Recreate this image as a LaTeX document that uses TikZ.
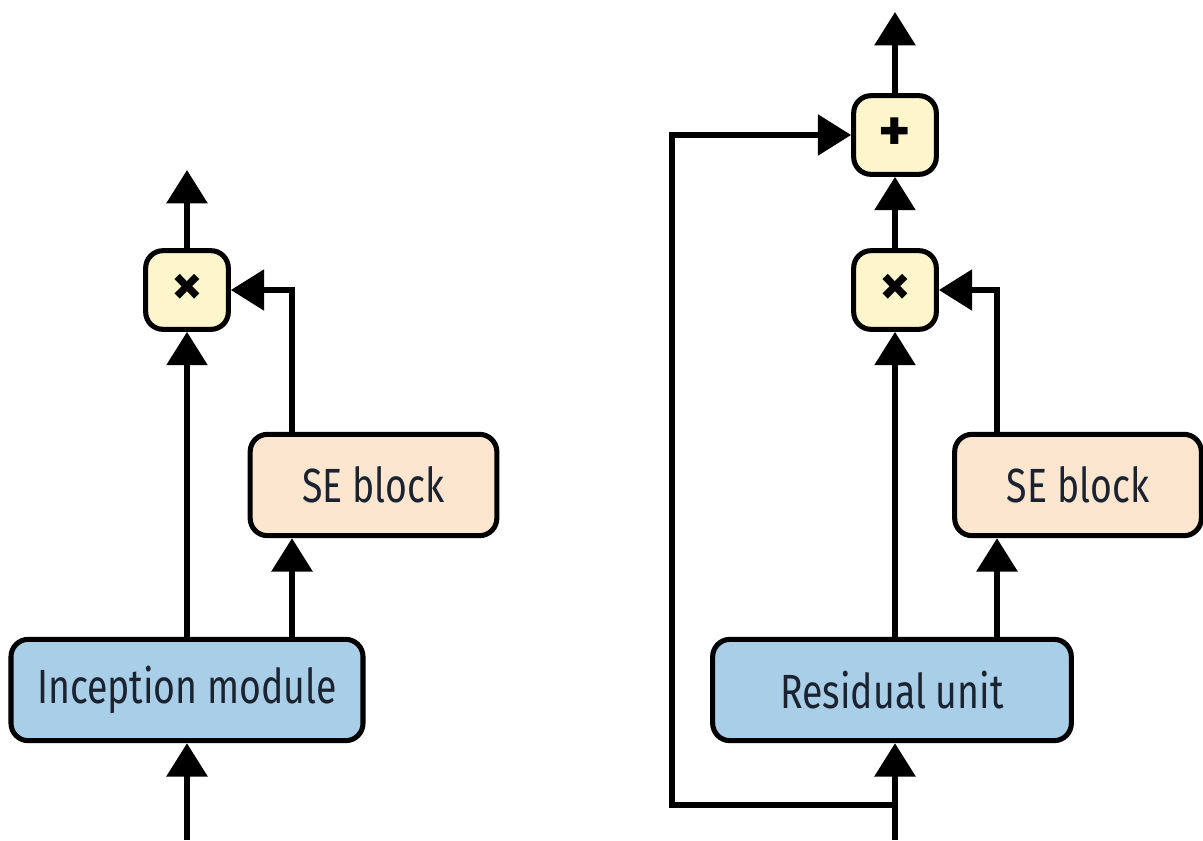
\documentclass[tikz,border=0pt]{standalone}
\usepackage{fontspec}
\setmainfont{Fira Sans}
\newfontfamily\labelfont[FakeStretch=0.78]{Fira Sans}
\usetikzlibrary{arrows.meta}
\definecolor{opyellow}{HTML}{FDF6CC}
\definecolor{oppeach}{HTML}{FCE6D0}
\definecolor{opblue}{HTML}{A9CFE8}
\definecolor{optext}{HTML}{1B2330}
\tikzset{
  box/.style={draw=black, line width=3.8pt, rounded corners=13pt, text=optext,
    font=\labelfont\fontsize{36}{40}\selectfont, inner sep=0pt},
  opbox/.style={draw=black, line width=3.8pt, rounded corners=13pt, fill=opyellow,
    minimum width=62pt, minimum height=59pt, inner sep=0pt,
    font=\bfseries\fontsize{46}{48}\selectfont},
  modbox/.style={box, fill=opblue, minimum height=76pt},
  sebox/.style={box, fill=oppeach, minimum width=185pt, minimum height=76pt},
  arr/.style={line width=4.5pt, -{Triangle[width=30pt,length=25pt]}},
  ln/.style={line width=4.5pt}
}
\begin{document}
\begin{tikzpicture}[x=0.75pt,y=-0.75pt]
\useasboundingbox[fill=white] (0,0) rectangle (1203,840);
% left
\node[modbox, minimum width=264pt] (inc) at (187,690) {Inception module};
\node[sebox] (seL) at (373.5,485) {SE block};
\node[opbox] (mulL) at (187,290) {×};
\coordinate (inL) at (187,840);
\coordinate (outL) at (187,170);
\coordinate (jL) at (292,0);
\draw[arr] (inL) -- (inc.south);
\draw[arr] (inc.north) -- (mulL.south);
\draw[arr] (mulL.north) -- (outL);
\draw[arr] (inc.north -| jL) -- (seL.south -| jL);
\draw[arr] (seL.north -| jL) |- (mulL.east);
% right
\node[modbox, minimum width=269pt] (res) at (892,690) {Residual unit};
\node[sebox] (seR) at (1078,485) {SE block};
\node[opbox] (mulR) at (895,290) {×};
\node[opbox] (plus) at (895,135) {+};
\coordinate (inR) at (895,840);
\coordinate (split) at (895,805);
\coordinate (skipC) at (672,805);
\coordinate (outR) at (895,12);
\coordinate (jR) at (997,0);
\draw[arr] (inR) -- (res.south -| inR);
\draw[arr] (res.north -| inR) -- (mulR.south);
\draw[arr] (mulR.north) -- (plus.south);
\draw[arr] (plus.north) -- (outR);
\draw[arr] (res.north -| jR) -- (seR.south -| jR);
\draw[arr] (seR.north -| jR) |- (mulR.east);
\draw[arr] (split) -- (skipC) |- (plus.west);
\end{tikzpicture}
\end{document}
